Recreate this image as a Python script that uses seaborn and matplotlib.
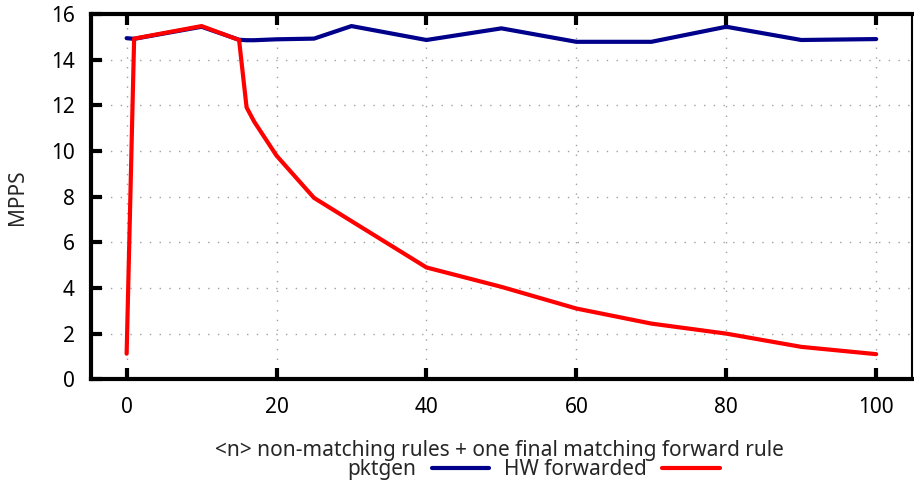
import matplotlib
matplotlib.use("Agg")
import matplotlib.pyplot as plt
import seaborn as sns
import pandas as pd

# rule counts on the x axis
rules = [0, 1, 10, 15, 16, 17, 20, 25, 30, 40, 50, 60, 70, 80, 90, 100]
pktgen = [14.95, 14.92, 15.45, 14.88, 14.86, 14.86, 14.9, 14.93, 15.48, 14.87,
          15.38, 14.79, 14.79, 15.45, 14.87, 14.91]
hw_forwarded = [1.12, 14.93, 15.48, 14.87, 11.92, 11.3, 9.8, 7.95, 6.93, 4.9,
                4.05, 3.1, 2.44, 2.0, 1.42, 1.1]

df = pd.DataFrame({"rules": rules, "pktgen": pktgen, "HW forwarded": hw_forwarded})
long = df.melt(id_vars="rules", var_name="series", value_name="mpps")

sns.set_style("white")
plt.rcParams["font.family"] = ["Noto Sans", "DejaVu Sans"]
fs = 15

fig, ax = plt.subplots(figsize=(9.14, 4.90), dpi=100)
fig.subplots_adjust(left=0.1, right=0.998, top=0.971, bottom=0.226)

sns.lineplot(data=long, x="rules", y="mpps", hue="series",
             palette={"pktgen": "#00008b", "HW forwarded": "#ff0000"},
             linewidth=3, ax=ax, legend=False)

ax.set_xlim(-4.7, 104.8)
ax.set_ylim(0, 16)
ax.set_xticks(range(0, 101, 20))
ax.set_yticks(range(0, 17, 2))
ax.grid(True, color="#a0a0a0", linestyle=(0, (1, 6)), linewidth=1)
ax.tick_params(axis="both", direction="in", length=8, width=3, labelsize=fs,
               colors="black")
ax.tick_params(axis="x", top=True, labeltop=False, bottom=True, pad=13)
ax.tick_params(axis="y", left=True, right=False, pad=12)

for side in ["left", "bottom", "top"]:
    ax.spines[side].set_linewidth(3)
    ax.spines[side].set_color("black")
ax.spines["right"].set_linewidth(1.5)
ax.spines["right"].set_color("black")

ax.set_xlabel("<n> non-matching rules + one final matching forward rule",
              fontsize=fs)
ax.xaxis.set_label_coords(0.4976, -0.195)
ax.xaxis.label.set_va("center")
ax.set_ylabel("MPPS", fontsize=fs)
ax.yaxis.set_label_coords(-0.090, 0.5)
ax.yaxis.label.set_va("center")

handles = [plt.Line2D([], [], color="#00008b", lw=3),
           plt.Line2D([], [], color="#ff0000", lw=3)]
fig.legend(handles, ["pktgen", "HW forwarded"], loc="center",
           bbox_to_anchor=(0.5837, 0.041), ncol=2, frameon=False,
           markerfirst=False, fontsize=fs, handlelength=2.75,
           columnspacing=0.7, handletextpad=0.75, borderpad=0)

fig.savefig("out.png", dpi=100)
